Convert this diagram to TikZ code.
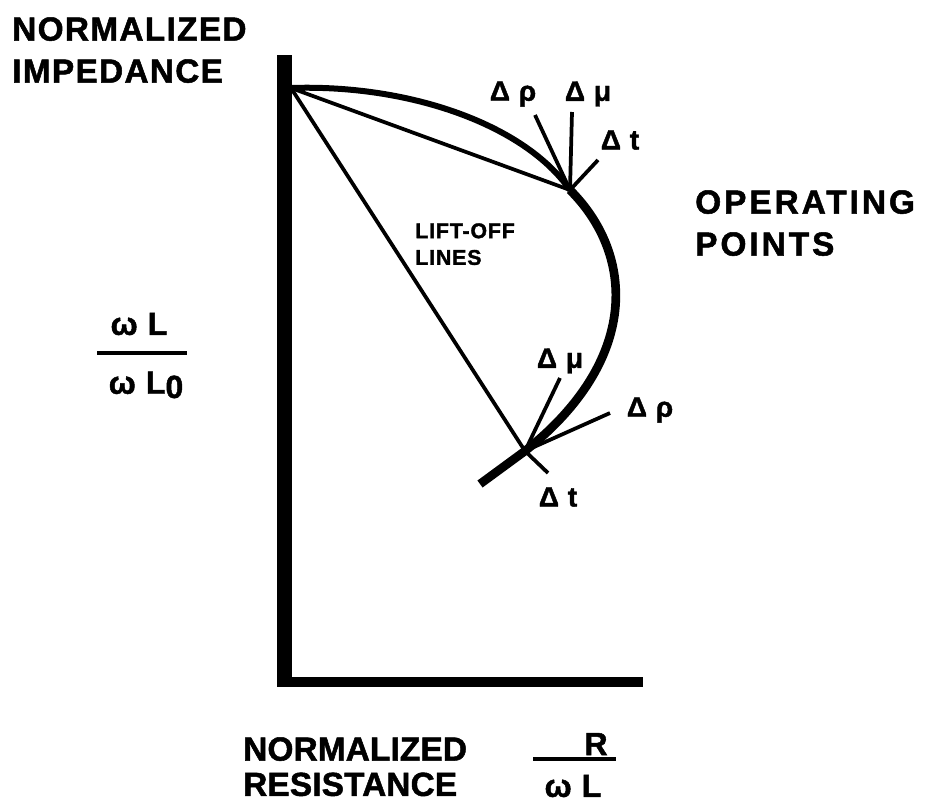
\documentclass[tikz,border=0pt]{standalone}
\usepackage{fontspec}
\setmainfont{Liberation Sans}[LetterSpace=4, BoldFeatures={FakeBold=1.5}]
\tikzset{
  lbl/.style={font=\bfseries\fontsize{25}{31.5}\selectfont, align=left, inner sep=0pt},
  small lbl/.style={font=\bfseries\fontsize{16}{20}\selectfont, align=left, inner sep=0pt},
  dlbl/.style={font=\bfseries\fontsize{21}{24}\selectfont, inner sep=0pt},
  frac/.style={font=\bfseries\fontsize{24}{26}\selectfont, inner sep=0pt},
  locus/.style={line width=6.5pt, line cap=butt},
  thin line/.style={line width=2.8pt},
}
\begin{document}
\begin{tikzpicture}[x=0.75pt,y=-0.75pt]
    \useasboundingbox (0,0) rectangle (935,804);

    % Axes
    \fill (277,55) rectangle (292,687);
    \fill (277,677) rectangle (643,687);

    % Points on the locus
    \coordinate (top) at (291,88);
    \coordinate (opA) at (570,190);
    \coordinate (opB) at (525,451);
    \coordinate (tail) at (480,484);

    % Impedance locus
    \draw[locus, line width=4.5pt] (top) .. controls (410,84) and (525,125) .. (opA);
    \draw[locus] (opA) .. controls (635,255) and (640,360) .. (opB) -- (tail);

    % Lift-off lines
    \draw[thin line] (top) -- (opA);
    \draw[thin line] (top) -- (opB);

    % Upper operating point
    \coordinate (rhoA) at (535,115);
    \coordinate (muA) at (572,112);
    \coordinate (tA) at (598,160);
    \draw[thin line] (opA) -- (rhoA);
    \draw[thin line] (opA) -- (muA);
    \draw[thin line] (opA) -- (tA);
    \node[dlbl] (lrhoA) at (513,94) {Δ ρ};
    \node[dlbl] (lmuA) at (588,94) {Δ μ};
    \node[dlbl] (ltA) at (620,140) {Δ t};

    % Lower operating point
    \coordinate (muB) at (560,378);
    \coordinate (rhoB) at (610,413);
    \coordinate (tB) at (548,473);
    \draw[thin line] (opB) -- (muB);
    \draw[thin line] (opB) -- (rhoB);
    \draw[thin line] (opB) -- (tB);
    \node[dlbl] (lmuB) at (560,361) {Δ μ};
    \node[dlbl] (lrhoB) at (650,410) {Δ ρ};
    \node[dlbl] (ltB) at (558,497) {Δ t};

    % Labels
    \node[lbl, anchor=north west] (yname) at (12,17) {NORMALIZED\\IMPEDANCE};
    \node[small lbl, anchor=north west] (liftoff) at (415,223) {LIFT-OFF\\LINES};
    \node[lbl, anchor=north west, font=\addfontfeatures{LetterSpace=9}\bfseries\fontsize{25}{31.5}\selectfont] (opname) at (695,190) {OPERATING\\POINTS};
    \node[lbl, anchor=north west, font=\addfontfeatures{LetterSpace=0.5}\bfseries\fontsize{25}{26.5}\selectfont] (xname) at (243,737) {NORMALIZED\\RESISTANCE};

    % Axis ratios
    \node[frac] (wl) at (139,324) {ω L};
    \draw[thin line] (97,353) -- (187,353);
    \node[frac] (wlzero) at (146,385) {ω L\raisebox{-0.25ex}{0}};
    \node[frac] (rnum) at (596,744) {R};
    \draw[thin line] (533,759) -- (616,759);
    \node[frac] (wlden) at (573,786) {ω L};
\end{tikzpicture}
\end{document}
